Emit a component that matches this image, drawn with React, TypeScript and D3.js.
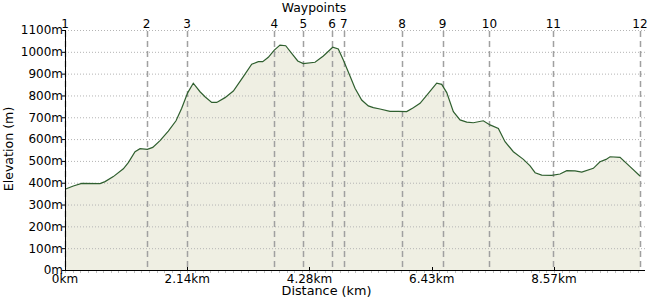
import React from "react";
import * as d3 from "d3";

const distKm = [0, 0.146, 0.293, 0.614, 0.702, 0.847, 1.023, 1.11, 1.228, 1.316, 1.443, 1.538, 1.666, 1.811, 1.946, 2.046, 2.152, 2.249, 2.367, 2.454, 2.572, 2.66, 2.805, 2.951, 3.126, 3.273, 3.389, 3.466, 3.564, 3.669, 3.769, 3.869, 3.974, 4.08, 4.178, 4.383, 4.529, 4.693, 4.791, 4.879, 4.996, 5.084, 5.201, 5.317, 5.405, 5.522, 5.698, 5.843, 5.99, 6.106, 6.224, 6.369, 6.516, 6.604, 6.692, 6.808, 6.925, 7.043, 7.158, 7.333, 7.451, 7.597, 7.714, 7.86, 8.036, 8.153, 8.241, 8.357, 8.533, 8.678, 8.796, 8.941, 9.059, 9.262, 9.379, 9.485, 9.555, 9.73, 9.905, 10.08];
const elevM = [370, 385, 397, 396, 405, 428, 464, 492, 542, 556, 553, 562, 593, 637, 684, 741, 813, 856, 817, 794, 768, 768, 790, 820, 886, 943, 955, 955, 975, 1008, 1031, 1028, 993, 958, 946, 952, 981, 1021, 1013, 962, 889, 833, 779, 752, 744, 738, 727, 727, 726, 744, 764, 810, 856, 851, 813, 726, 688, 678, 675, 684, 665, 649, 588, 542, 507, 477, 446, 435, 434, 440, 455, 454, 449, 466, 496, 507, 519, 516, 474, 431, 382];

const waypointLabels = ["1", "2", "3", "4", "5", "6", "7", "8", "9", "10", "11", "12"];
const waypointKm = [0, 1.43, 2.14, 3.67, 4.18, 4.68, 4.89, 5.91, 6.62, 7.44, 8.56, 10.08];

const yTicks = [0, 100, 200, 300, 400, 500, 600, 700, 800, 900, 1000, 1100];
const xTickStep = 15 / 7;
const xTicks = [0, 1, 2, 3, 4].map((i) => i * xTickStep);
const xTickLabels = ["0km", "2.14km", "4.28km", "6.43km", "8.57km"];

const W = 650;
const H = 300;
const left = 65;
const right = 640;
const top = 30;
const bottom = 270;
const gridRight = 645;

export default function App() {
  const x = d3.scaleLinear().domain([0, 10.08]).range([left, right]);
  const y = d3.scaleLinear().domain([0, 1100]).range([bottom, top]);
  const pts = distKm.map((d, i) => [d, elevM[i]] as [number, number]);
  const area = d3
    .area<[number, number]>()
    .x((p) => x(p[0]))
    .y0(y(0))
    .y1((p) => y(p[1]))(pts) as string;
  const line = d3
    .line<[number, number]>()
    .x((p) => x(p[0]))
    .y((p) => y(p[1]))(pts) as string;

  const minor: number[] = [];
  for (let v = 0; x(v) <= gridRight; v += xTickStep / 16) minor.push(v);

  const font = "Verdana, 'DejaVu Sans', sans-serif";

  return (
    <svg
      width={W}
      height={H}
      style={{ position: "absolute", left: 0, top: 0, background: "#fff" }}
      fontFamily={font}
      fontSize={12}
    >
      <path d={area} fill="#efefe3" />
      {yTicks.slice(1).map((t) => (
        <line
          key={"g" + t}
          x1={left}
          x2={gridRight}
          y1={y(t) + 0.5}
          y2={y(t) + 0.5}
          stroke="#b4b4b4"
          strokeWidth={1}
          strokeDasharray="1,2"
        />
      ))}
      {waypointKm.map((d, i) => (
        <line
          key={"w" + i}
          x1={Math.round(x(d)) + 0.5}
          x2={Math.round(x(d)) + 0.5}
          y1={top + 1}
          y2={bottom}
          stroke="#a0a0a0"
          strokeWidth={1.5}
          strokeDasharray="6,4"
        />
      ))}
      <path d={line} fill="none" stroke="#2f5f2f" strokeWidth={1.2} />
      {minor.map((v, i) => (
        <line
          key={"m" + i}
          x1={Math.round(x(v)) + 0.5}
          x2={Math.round(x(v)) + 0.5}
          y1={bottom}
          y2={bottom + 3}
          stroke="#c0c0c0"
        />
      ))}
      <line x1={left} x2={gridRight} y1={bottom + 0.5} y2={bottom + 0.5} stroke="#000" />
      <line x1={left + 0.5} x2={left + 0.5} y1={top} y2={bottom + 1} stroke="#000" />
      {yTicks.map((t) => (
        <g key={"y" + t}>
          <line x1={left - 3} x2={left} y1={y(t) + 0.5} y2={y(t) + 0.5} stroke="#000" />
          <text x={left - 2} y={y(t)} dy="0.36em" textAnchor="end" fill="#000">
            {t + "m"}
          </text>
        </g>
      ))}
      {xTicks.map((t, i) => (
        <g key={"x" + i}>
          <line
            x1={Math.round(x(t)) + 0.5}
            x2={Math.round(x(t)) + 0.5}
            y1={bottom - 3}
            y2={bottom}
            stroke="#000"
          />
          <text x={x(t)} y={283} textAnchor="middle" fill="#000">
            {xTickLabels[i]}
          </text>
        </g>
      ))}
      {waypointKm.map((d, i) => (
        <text key={"wl" + i} x={x(d)} y={28} textAnchor="middle" fill="#000">
          {waypointLabels[i]}
        </text>
      ))}
      <text x={314} y={12} textAnchor="middle" fill="#000" fontSize={12.4}>
        Waypoints
      </text>
      <text x={326.5} y={295} textAnchor="middle" fill="#000" fontSize={12.8}>
        Distance (km)
      </text>
      <text
        transform={`translate(13,149) rotate(-90)`}
        textAnchor="middle"
        fill="#000"
        fontSize={12.6}
      >
        Elevation (m)
      </text>
    </svg>
  );
}
